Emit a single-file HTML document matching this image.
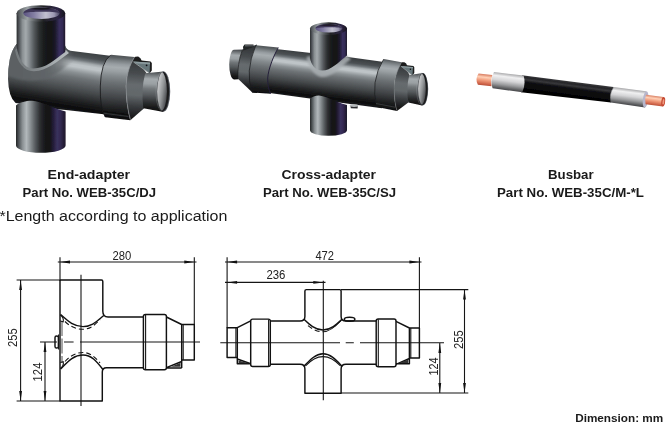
<!DOCTYPE html>
<html><head><meta charset="utf-8">
<style>
html,body{margin:0;padding:0;background:#fff;}
body{width:669px;height:423px;overflow:hidden;font-family:"Liberation Sans",sans-serif;}
svg{display:block;position:absolute;left:0;top:0;}
text{font-family:"Liberation Sans",sans-serif;fill:#1a1a1a;}
.b{font-weight:bold;}
.ln{stroke:#151515;stroke-width:1.1;fill:none;stroke-linecap:butt;}
.th{stroke:#222;stroke-width:0.8;fill:none;}
.bd{stroke:#111;stroke-width:1.45;fill:none;stroke-linejoin:round;}
.dm{font-size:12px;fill:#222;}
</style></head><body>
<svg width="669" height="423" viewBox="0 0 669 423">
<defs>
<!--DEFS-->
<filter id="bl" x="-5%" y="-5%" width="110%" height="110%"><feGaussianBlur stdDeviation="0.45"/></filter>
<filter id="bl2" x="-20%" y="-20%" width="140%" height="140%"><feGaussianBlur stdDeviation="1.3"/></filter>
<filter id="bl3" x="-20%" y="-20%" width="140%" height="140%"><feGaussianBlur stdDeviation="0.7"/></filter>
<!-- vertical pipe (horizontal gradient) -->
<linearGradient id="gvp" x1="0" y1="0" x2="1" y2="0">
<stop offset="0" stop-color="#2a2c2e"/><stop offset="0.05" stop-color="#50555a"/><stop offset="0.12" stop-color="#8a9093"/><stop offset="0.19" stop-color="#a4aaad"/><stop offset="0.27" stop-color="#80868a"/><stop offset="0.36" stop-color="#54595c"/><stop offset="0.46" stop-color="#2e3032"/><stop offset="0.56" stop-color="#1a1b1c"/><stop offset="0.72" stop-color="#141416"/><stop offset="0.8" stop-color="#1e1a2e"/><stop offset="0.88" stop-color="#382f5c"/><stop offset="0.94" stop-color="#342b56"/><stop offset="1" stop-color="#1c1828"/>
</linearGradient>
<!-- horizontal body End-adapter -->
<linearGradient id="ghbA" href="#ghb" gradientUnits="userSpaceOnUse" x1="62" y1="47.4" x2="51.8" y2="109.5"/>
<linearGradient id="gflA" href="#gfl" gradientUnits="userSpaceOnUse" x1="119" y1="53" x2="114" y2="119"/>
<linearGradient id="gcnA" href="#gcn" gradientUnits="userSpaceOnUse" x1="138" y1="60" x2="134" y2="119"/>
<!-- generic (bbox) versions for cross-adapter -->
<linearGradient id="ghb" x1="0.05" y1="0" x2="0" y2="1">
<stop offset="0" stop-color="#3a3e40"/><stop offset="0.1" stop-color="#4c5154"/><stop offset="0.15" stop-color="#70767a"/><stop offset="0.19" stop-color="#a4aaad"/><stop offset="0.23" stop-color="#bec4c7"/><stop offset="0.27" stop-color="#bec4c7"/><stop offset="0.31" stop-color="#a6acaf"/><stop offset="0.36" stop-color="#8a9093"/><stop offset="0.44" stop-color="#6e7376"/><stop offset="0.54" stop-color="#5a5e61"/><stop offset="0.64" stop-color="#464a4c"/><stop offset="0.74" stop-color="#2f3133"/><stop offset="0.83" stop-color="#1b1c1d"/><stop offset="0.92" stop-color="#0c0c0d"/><stop offset="1" stop-color="#1c1e22"/>
</linearGradient>
<linearGradient id="gfl" x1="0.05" y1="0" x2="0" y2="1">
<stop offset="0" stop-color="#44484a"/><stop offset="0.07" stop-color="#5a5f62"/><stop offset="0.12" stop-color="#7a8083"/><stop offset="0.17" stop-color="#969ca0"/><stop offset="0.22" stop-color="#a6acaf"/><stop offset="0.28" stop-color="#9aa0a3"/><stop offset="0.35" stop-color="#848a8d"/><stop offset="0.45" stop-color="#6c7174"/><stop offset="0.56" stop-color="#585c5f"/><stop offset="0.67" stop-color="#434649"/><stop offset="0.77" stop-color="#2e3032"/><stop offset="0.87" stop-color="#1a1b1c"/><stop offset="1" stop-color="#0c0c0d"/>
</linearGradient>
<linearGradient id="gcn" x1="0.05" y1="0" x2="0" y2="1">
<stop offset="0" stop-color="#34373a"/><stop offset="0.22" stop-color="#464a4d"/><stop offset="0.42" stop-color="#666b6e"/><stop offset="0.6" stop-color="#62676a"/><stop offset="0.78" stop-color="#3a3d40"/><stop offset="1" stop-color="#141415"/>
</linearGradient>
<linearGradient id="gep" x1="0.03" y1="0" x2="0" y2="1">
<stop offset="0" stop-color="#4a4e51"/><stop offset="0.08" stop-color="#72777a"/><stop offset="0.18" stop-color="#a4aaad"/><stop offset="0.3" stop-color="#9aa0a3"/><stop offset="0.42" stop-color="#72777a"/><stop offset="0.58" stop-color="#54585b"/><stop offset="0.75" stop-color="#2e3032"/><stop offset="0.9" stop-color="#151516"/><stop offset="1" stop-color="#0a0a0a"/>
</linearGradient>
<linearGradient id="ghole" x1="0" y1="0.15" x2="1" y2="0.75">
<stop offset="0" stop-color="#b6b8ba"/><stop offset="0.3" stop-color="#bec0c2"/><stop offset="0.6" stop-color="#909395"/><stop offset="0.85" stop-color="#5e6063"/><stop offset="1" stop-color="#404144"/>
</linearGradient>
<linearGradient id="gtop" x1="0" y1="0" x2="1" y2="0">
<stop offset="0" stop-color="#5a5280"/><stop offset="0.3" stop-color="#8580a4"/><stop offset="0.62" stop-color="#c2c1d0"/><stop offset="0.85" stop-color="#9c98b2"/><stop offset="1" stop-color="#4a4562"/>
</linearGradient>
<linearGradient id="grim" x1="0" y1="0" x2="1" y2="0">
<stop offset="0" stop-color="#3a3d3f"/><stop offset="0.08" stop-color="#666b6e"/><stop offset="0.22" stop-color="#9aa0a3"/><stop offset="0.4" stop-color="#54585b"/><stop offset="0.55" stop-color="#232426"/><stop offset="0.85" stop-color="#2d2545"/><stop offset="1" stop-color="#16141c"/>
</linearGradient>
<linearGradient id="gcu" x1="0" y1="0" x2="0" y2="1">
<stop offset="0" stop-color="#d9785c"/><stop offset="0.3" stop-color="#ffc3a6"/><stop offset="0.6" stop-color="#ee9170"/><stop offset="1" stop-color="#c8573c"/>
</linearGradient>
<linearGradient id="gwh" x1="0" y1="0" x2="0" y2="1">
<stop offset="0" stop-color="#b7b7b9"/><stop offset="0.22" stop-color="#ededee"/><stop offset="0.5" stop-color="#c9c9cb"/><stop offset="0.8" stop-color="#8f9092"/><stop offset="1" stop-color="#6a6b6d"/>
</linearGradient>
<linearGradient id="gbk" x1="0" y1="0" x2="0" y2="1">
<stop offset="0" stop-color="#1a1a1c"/><stop offset="0.2" stop-color="#2e2e31"/><stop offset="0.45" stop-color="#0c0c0d"/><stop offset="1" stop-color="#000"/>
</linearGradient>
<linearGradient id="ghbB" href="#ghb" gradientUnits="userSpaceOnUse" x1="291" y1="50.6" x2="285.2" y2="96.4"/>
<linearGradient id="gflBL" href="#gfl" gradientUnits="userSpaceOnUse" x1="262" y1="43.7" x2="256" y2="93.6"/>
<linearGradient id="gflBR" href="#gfl" gradientUnits="userSpaceOnUse" x1="388" y1="56.5" x2="381.8" y2="110"/>
<linearGradient id="gcnBL" href="#gcn" gradientUnits="userSpaceOnUse" x1="248" y1="47.5" x2="243" y2="88.5"/>
<linearGradient id="gcnBR" href="#gcn" gradientUnits="userSpaceOnUse" x1="403" y1="65" x2="398" y2="108"/>
<clipPath id="cpA"><ellipse cx="163.1" cy="91.5" rx="6" ry="19.5"/></clipPath>
<clipPath id="cpB"><ellipse cx="422.8" cy="89.1" rx="4.7" ry="15.6"/></clipPath>
<linearGradient id="gvp2" x1="0" y1="0" x2="1" y2="0">
<stop offset="0" stop-color="#222426"/><stop offset="0.05" stop-color="#4a4f52"/><stop offset="0.13" stop-color="#8a9093"/><stop offset="0.21" stop-color="#b2b8bb"/><stop offset="0.29" stop-color="#8a9093"/><stop offset="0.38" stop-color="#5a5f62"/><stop offset="0.48" stop-color="#2e3032"/><stop offset="0.58" stop-color="#18191a"/><stop offset="0.68" stop-color="#141416"/><stop offset="0.74" stop-color="#201b32"/><stop offset="0.83" stop-color="#3a315e"/><stop offset="0.9" stop-color="#312950"/><stop offset="1" stop-color="#1c1828"/>
</linearGradient>
<linearGradient id="gbkC" gradientUnits="userSpaceOnUse" x1="568" y1="81.2" x2="565.8" y2="97.5">
<stop offset="0" stop-color="#3a3a3d"/><stop offset="0.12" stop-color="#252528"/><stop offset="0.25" stop-color="#38383b"/><stop offset="0.4" stop-color="#111113"/><stop offset="1" stop-color="#000"/>
</linearGradient>
<linearGradient id="gwhL" gradientUnits="userSpaceOnUse" x1="508.5" y1="73.7" x2="506.4" y2="90.2">
<stop offset="0" stop-color="#a9a9ab"/><stop offset="0.2" stop-color="#f0f0f1"/><stop offset="0.45" stop-color="#d4d4d6"/><stop offset="0.7" stop-color="#9a9b9d"/><stop offset="0.9" stop-color="#5e5f61"/><stop offset="1" stop-color="#46474a"/>
</linearGradient>
<linearGradient id="gwhR" href="#gwhL" gradientUnits="userSpaceOnUse" x1="629.5" y1="89.1" x2="627.5" y2="105"/>
<linearGradient id="gcuL" gradientUnits="userSpaceOnUse" x1="485.5" y1="74.2" x2="484.2" y2="85.5">
<stop offset="0" stop-color="#d77a5e"/><stop offset="0.28" stop-color="#ffd0b6"/><stop offset="0.55" stop-color="#f09a7a"/><stop offset="0.85" stop-color="#d0654a"/><stop offset="1" stop-color="#b64f38"/>
</linearGradient>
<linearGradient id="gcuR" href="#gcuL" gradientUnits="userSpaceOnUse" x1="654.5" y1="95.6" x2="653.2" y2="105.4"/>
<linearGradient id="gmute" gradientUnits="userSpaceOnUse" x1="8" y1="0" x2="74" y2="0">
<stop offset="0" stop-color="#5b6063" stop-opacity="1"/><stop offset="0.55" stop-color="#5f6467" stop-opacity="1"/><stop offset="0.8" stop-color="#656a6d" stop-opacity="0.7"/><stop offset="1" stop-color="#6a6f72" stop-opacity="0"/>
</linearGradient>
<linearGradient id="gstreak" gradientUnits="userSpaceOnUse" x1="14" y1="0" x2="72" y2="0">
<stop offset="0" stop-color="#7e8487" stop-opacity="0.7"/><stop offset="0.4" stop-color="#8a9093" stop-opacity="0.85"/><stop offset="0.7" stop-color="#a8aeb1" stop-opacity="1"/><stop offset="1" stop-color="#b8bec1" stop-opacity="1"/>
</linearGradient>
<clipPath id="cpBodyA"><path d="M16.6,44Q11.5,50 9.6,60Q8,69 8,79Q8.5,97 15.6,103L60,109.4L66,110L108,114.7L112,56L70.3,50.8Q66.5,49.8 65,45.5Z"/></clipPath>
</defs>
<rect width="669" height="423" fill="#fff"/>
<!--RENDER3D-->
<g id="endadapter" filter="url(#bl)">
<!-- horizontal body -->
<path fill="url(#ghbA)" d="M16.6,44Q11.5,50 9.6,60Q8,69 8,79Q8.5,97 15.6,103L60,109.4L66,110L108,114.7L112,56L70.3,50.8Q66.5,49.8 65,45.5Z"/>
<!-- bottom pipe -->
<path fill="url(#gvp2)" d="M16,105.5C20,102 27,100.6 32,100.8C42,101.5 52,108 65.6,111.6V145.4A24.8,7.4 0 0 1 16,145.4Z"/>
<!-- saddle highlight -->
<g clip-path="url(#cpBodyA)"><path fill="url(#gmute)" d="M6,44L76,44L76,60C66,66 56,76 44,79C30,82 16,80 6,74Z" filter="url(#bl2)"/></g>
<path fill="url(#gstreak)" d="M15,50C17,62 24,71.5 34,71.3C47,70.6 57,62 69,53L66,50C55,58 46,66 33,66C24,66 19,57 17.5,48Z" filter="url(#bl3)"/>
<!-- top pipe with saddle -->
<path fill="url(#gvp)" d="M16.6,13V46C18,58 24,68.5 33,68.5C46,68.5 54,60 65.2,52V13Z"/>
<!-- top ellipse rim -->
<ellipse cx="40.9" cy="13.4" rx="24.3" ry="8.2" fill="url(#grim)"/>
<ellipse cx="41.5" cy="13.2" rx="18" ry="5.8" fill="url(#gtop)"/>
<path d="M23.5,13.2A18,5.8 0 0 1 59.5,13.2C54,11.4 29,11.4 23.5,13.2Z" fill="#3d3656"/>
<path d="M29,9Q41.5,6.4 54,9Q41.5,10.4 29,9Z" fill="#17151f"/>
<!-- flange -->
<path fill="url(#gflA)" d="M111,54.7L134.6,57C130,64 126.2,75 125.9,86C125.8,98 127.5,110 130.3,120.3L105.2,117.3Q99.6,108 100,86Q101,62 111,54.7Z"/>
<path fill="none" stroke="#161718" stroke-width="0.8" d="M110.5,55.2Q101,62 100.3,86Q99.8,108 105.2,117"/>
<path fill="none" stroke="#0c0c0d" stroke-width="1.2" opacity="0.8" d="M103,111.3L128,114.6"/>
<path fill="none" stroke="#44484b" stroke-width="0.7" opacity="0.9" d="M103.6,113.2L128.4,116.5"/>
<!-- cone -->
<path fill="url(#gcnA)" d="M134.6,57L146.5,73L144.4,108L130.3,120.3C127.5,110 125.8,98 125.9,86C126.2,75 130,64 134.6,57Z"/>
<path fill="none" stroke="#8d9295" stroke-width="0.8" opacity="0.85" d="M134.3,57.6C130,64 126.4,75 126.2,86C126.1,98 127.7,110 130.4,119.6"/>
<!-- lug -->
<path fill="#1b1c1d" d="M135.2,56.7L138.2,56.6Q141,58 141.6,60.6L150.6,61.6L151.8,63L151.8,70.5L149.6,73.6L133,61.6Z"/>
<path fill="#66767a" d="M133.4,61.6L150,62.8L149.6,73.2Z"/>
<path fill="#8b9a9e" d="M133.4,61.4L150,62.6L150,64.2L137,63.4Z"/>
<path fill="none" stroke="#cfd6d8" stroke-width="0.6" d="M133.4,61.9L149.4,73.2"/>
<circle cx="146.6" cy="65.3" r="0.9" fill="#101112"/>
<!-- end pipe -->
<path fill="url(#gep)" d="M145.2,73.2L163.5,71.4A6.7,20.1 0 0 1 161,111.6L143.4,108.2Q140.8,90 145.2,73.2Z"/>
<ellipse cx="163.5" cy="91.5" rx="6.7" ry="20.1" fill="#50545a"/>
<ellipse cx="163.1" cy="91.5" rx="6" ry="19.5" fill="#1a1b1d"/>
<g clip-path="url(#cpA)"><ellipse cx="161.3" cy="91.3" rx="5.6" ry="19.4" fill="url(#ghole)"/></g>
<path fill="none" stroke="#9a9ea0" stroke-width="0.5" opacity="0.6" d="M163,71.8A6.3,19.8 0 0 0 160.5,110.5"/>
</g>
<g id="crossadapter" filter="url(#bl)">
<!-- left end pipe -->
<path fill="url(#gep)" d="M242.6,49.4L234,49.8A4.8,14.8 0 0 0 234,79.4L238.4,79.3Q237,64 242.6,49.4Z"/>
<!-- left cone -->
<path fill="url(#gcnBL)" d="M242.4,49.6L257,44.5L257,93L252.4,92.5L238.2,79Q237,64 242.4,49.6Z"/>
<path fill="none" stroke="#1a1b1c" stroke-width="0.7" d="M242.4,49.8Q237,64 238.2,79"/>
<!-- left lug -->
<path fill="#232527" d="M243,46.8L244.5,44.4L253.5,44.6L253.5,47L243.4,50.6Z"/>
<path fill="#5a5f62" d="M245,45L253,45.2L253,46.2L245.2,46.4Z"/>
<!-- body -->
<path fill="url(#ghbB)" d="M262,47.4L280.4,49.5L309,52.7L347,56.8L351.7,57.5L386,62.2L382,108.3L346.4,103.5L308,98.3L266,92.6Z"/>
<!-- bottom pipe -->
<path fill="url(#gvp2)" d="M310,98.6C312,96.6 315.5,95.3 319,95.4C326,95.8 335,101.5 347,105V130.2A18.5,5.6 0 0 1 310,130.2Z"/>
<!-- left flange -->
<path fill="url(#gflBL)" d="M255.9,45.2L278.3,47.5C274,55 268.5,68 267.7,78C267.5,84 268.5,89 270.5,93.8L252.4,92.5Q244.2,73 255.9,45.2Z"/>
<path fill="none" stroke="#251f3a" stroke-width="1" d="M278.3,47.6C274,55 268.5,68 267.7,78C267.5,84 268.5,89 270.5,93.8"/>
<path fill="none" stroke="#1a1b1c" stroke-width="0.7" d="M255.8,45.4Q244.4,73 252.4,92.4"/>
<!-- saddle highlight -->
<path fill="#a9afb2" opacity="0.85" d="M306.5,57C309,69 315,77 323,77C333,76.5 341,67 351,59L346,55C338,62 331,69.5 322,69.5C315,69.5 311,63 310,56Z" filter="url(#bl2)"/>
<!-- top pipe -->
<path fill="url(#gvp)" d="M310,28.6V58C311.2,65 315.5,70.6 322.2,70.6C331,70.6 338.5,62 347,55.5V28.6Z"/>
<ellipse cx="328.5" cy="28.6" rx="18.5" ry="6.3" fill="url(#grim)"/>
<ellipse cx="328.9" cy="28.3" rx="13.4" ry="4.3" fill="url(#gtop)"/>
<path d="M315.5,28.3A13.4,4.3 0 0 1 342.3,28.3C338,27 320,27 315.5,28.3Z" fill="#3d3656"/>
<path d="M319.5,25.2Q329,23.2 338.5,25.2Q329,26.3 319.5,25.2Z" fill="#17151f"/>
<!-- bolt -->
<path fill="#2a2c2e" d="M350.4,105.6L357.8,106.2L357.6,108.6L350.8,108.2Z"/>
<ellipse cx="354" cy="105.6" rx="4.3" ry="1.4" fill="#b4b8ba"/>
<!-- right flange -->
<path fill="url(#gflBR)" d="M383.8,58.9L401.7,62.3C397,70 394,80 394,88C394,97 395,105 397,111L377,107Q369.5,82 383.8,58.9Z"/>
<path fill="none" stroke="#1a1b1c" stroke-width="0.7" d="M383.6,59.2Q369.8,82 377,106.8"/>
<path fill="none" stroke="#4a4d4f" stroke-width="0.6" d="M376,103.5L395.5,107.3"/>
<!-- right cone -->
<path fill="url(#gcnBR)" d="M401.7,62.3L409.6,75L408.3,102.4L397,111C395,105 394,97 394,88C394,80 397,70 401.7,62.3Z"/>
<path fill="none" stroke="#777c7e" stroke-width="0.6" opacity="0.8" d="M401.5,63C397,70 394.2,80 394.2,88C394.2,97 395.2,105 397,110.5"/>
<!-- right lug -->
<path fill="#1b1c1d" d="M401.9,62.3L404.4,62.2Q406.6,63.4 407,65.2L413.4,66.1L414.3,67.2L414.3,73L412.4,75.6L400.4,66.2Z"/>
<path fill="#66767a" d="M400.8,66L413,67.2L412.5,75.2Z"/>
<path fill="#8b9a9e" d="M400.8,65.9L413,67L413,68.3L403.6,67.6Z"/>
<path fill="none" stroke="#cfd6d8" stroke-width="0.5" d="M400.8,66.2L412.3,75.2"/>
<circle cx="410.4" cy="69.2" r="0.7" fill="#101112"/>
<!-- right end pipe -->
<path fill="url(#gep)" d="M409.3,75L423,72.9A5.3,16.2 0 0 1 421,105.3L408.3,102.4Q406,88 409.3,75Z"/>
<ellipse cx="422.9" cy="89.1" rx="5.3" ry="16.2" fill="#50545a"/>
<ellipse cx="422.8" cy="89.1" rx="4.7" ry="15.6" fill="#1a1b1d"/>
<g clip-path="url(#cpB)"><ellipse cx="421.3" cy="89" rx="4.5" ry="15.5" fill="url(#ghole)"/></g>
<path fill="none" stroke="#9a9ea0" stroke-width="0.5" opacity="0.6" d="M422.6,73.2A5,16 0 0 0 420.6,104.6"/>
</g>
<g id="busbar" filter="url(#bl)">
<!-- black center (polygon in page coords) -->
<path fill="url(#gbkC)" d="M522,75.2L613.5,87.1L611,102.4L521,92.3Z"/>
<!-- left white sleeve -->
<path fill="url(#gwhL)" d="M494,71.9L523.6,75.6Q526,84 522.3,92.3L492.6,88.3Q489.6,80 494,71.9Z"/>
<!-- left copper -->
<path fill="url(#gcuL)" d="M478.6,73.5L492.3,75Q490.3,80.5 491.5,86.2L477.9,84.7Q474.7,78.9 478.6,73.5Z"/>
<!-- right white sleeve -->
<path fill="url(#gwhR)" d="M613.6,87.1L646,91.2Q648.6,99.5 645,107.6L610.8,102.4Q608.6,94.5 613.6,87.1Z"/>
<path fill="none" stroke="#55565a" stroke-width="0.6" opacity="0.7" d="M613.6,87.3Q608.8,94.5 610.9,102.2"/>
<ellipse cx="645.6" cy="99.4" rx="2.7" ry="8.2" transform="rotate(7.3 645.6 99.4)" fill="#b7b6cc"/>
<!-- right copper -->
<path fill="url(#gcuR)" d="M646,94.7L663.4,96.9Q666.7,101.6 662.9,106.5L645.6,104.2Q644.2,99.4 646,94.7Z"/>
<ellipse cx="663.2" cy="101.7" rx="1.9" ry="4.7" transform="rotate(7.3 663.2 101.7)" fill="#c64a33"/>
<ellipse cx="663.4" cy="101.8" rx="0.9" ry="2.7" transform="rotate(7.3 663.4 101.8)" fill="#ef9a80"/>
</g>
<!--TEXT-->
<g id="labels" opacity="0.999">
<text class="b" x="47.6" y="178.9" font-size="13.2" textLength="82.5" lengthAdjust="spacingAndGlyphs">End-adapter</text>
<text class="b" x="22.6" y="197.4" font-size="13.2" textLength="133.5" lengthAdjust="spacingAndGlyphs">Part No. WEB-35C/DJ</text>
<text class="b" x="281.4" y="178.9" font-size="13.2" textLength="94.6" lengthAdjust="spacingAndGlyphs">Cross-adapter</text>
<text class="b" x="263" y="197.4" font-size="13.2" textLength="133" lengthAdjust="spacingAndGlyphs">Part No. WEB-35C/SJ</text>
<text class="b" x="548" y="178.9" font-size="13.2" textLength="45.6" lengthAdjust="spacingAndGlyphs">Busbar</text>
<text class="b" x="497" y="197.4" font-size="13.2" textLength="147" lengthAdjust="spacingAndGlyphs">Part No. WEB-35C/M-*L</text>
<text x="-0.6" y="221" font-size="15.4" textLength="228" lengthAdjust="spacingAndGlyphs">*Length according to application</text>
<text class="b" x="575.2" y="422.2" font-size="11.4" textLength="88" lengthAdjust="spacingAndGlyphs" fill="#333">Dimension: mm</text>
</g>
<!--DRAW1-->
<g id="draw1" opacity="0.999">
<!-- extension & dimension lines -->
<path class="ln" d="M60,257.3V281 M194.3,257.3V325 M57.8,262H196.5 M16.6,280H60 M16.6,401H60 M20.6,280V401 M45,342V401 M40,342H57"/>
<path class="ln" d="M81,274.7V406"/>
<path class="ln" d="M64,342H73.6 M80,342H200"/>
<!-- arrows -->
<path fill="#111" d="M60,262l10,-1.4v2.8z M194.3,262l-10,-1.4v2.8z M20.6,280l-1.4,10h2.8z M20.6,401l-1.4,-10h2.8z M45,342l-1.4,10h2.8z M45,401l-1.4,-10h2.8z"/>
<!-- body -->
<path class="bd" d="M60,280H101.5Q102.8,280 102.8,281.5V311Q102.8,317 108,317H143.4"/>
<path class="bd" d="M60,280V401H102.3V372Q102.3,367.7 106.5,367.7H143.4"/>
<rect class="bd" x="143.4" y="314.5" width="23" height="55.3" rx="2" ry="2"/>
<path class="ln" d="M145.6,314.8V369.5"/>
<path class="bd" d="M166.4,317L181.7,324.5H194.3V360H181.7"/>
<path class="bd" d="M181.7,324.5V368 M166.4,368H181.7 M166.4,367.7L181.7,361.5"/>
<path class="ln" d="M183.2,324.5V360"/>
<path fill="#333" d="M171,366.8L180.5,362.8V366.8z"/>
<!-- saddles -->
<path class="bd" stroke-width="1" d="M60.6,314.5C66,319 72,326.6 83,326.6C92,326.6 97,321 103.8,315.5"/>
<path class="ln" stroke-dasharray="5 3" d="M65,321.5C70,326.5 76,329.3 83,329.3C90,329.3 95,325 100,319.5"/>
<path class="ln" d="M60.3,315C62.5,316.5 63.8,319 63.2,321.8L60.3,321"/>
<path class="bd" stroke-width="1" d="M60.6,369C66,364 72,355 83,355C92,355 97,362 103,369.5"/>
<path class="ln" stroke-dasharray="5 3" d="M65,361.5C70,356 76,352.5 83,352.5C90,352.5 95,357 100,363"/>
<path class="ln" d="M60.3,368.5C62.5,367 63.8,364.5 63.2,361.7L60.3,362.5"/>
<path class="th" stroke-dasharray="15 2.5" d="M62,321V363"/>
<!-- plug -->
<rect class="bd" stroke-width="1" x="55" y="336" width="3.4" height="12" rx="1.6" ry="1.6"/>
<path class="ln" d="M58.6,334.5V349.5"/>
<!-- dim text -->
<text class="dm" x="112.4" y="259.6" font-size="12.8" textLength="18.8" lengthAdjust="spacingAndGlyphs">280</text>
<text class="dm" transform="translate(16.8,347) rotate(-90)" font-size="12.8" textLength="18.8" lengthAdjust="spacingAndGlyphs">255</text>
<text class="dm" transform="translate(41.7,381.4) rotate(-90)" font-size="12.8" textLength="18.8" lengthAdjust="spacingAndGlyphs">124</text>
</g>
<!--/DRAW1-->
<!--DRAW2-->
<g id="draw2" opacity="0.999">
<path class="ln" d="M227.1,257.3V328 M419.4,257.3V328 M225,262H421.5 M225,282.4H325.5 M323.3,280.7V400.2 M341,289.6H468.3 M341,393H468.3 M464.5,289.6V393 M439.8,343V393"/>
<path class="ln" d="M220.3,342.7H340 M345.7,342.7H353.8 M360,342.7H444"/>
<path fill="#111" d="M227.1,262l10,-1.4v2.8z M419.4,262l-10,-1.4v2.8z M227.1,282.4l10,-1.4v2.8z M323.3,282.4l-10,-1.4v2.8z M464.5,289.6l-1.4,10h2.8z M464.5,393l-1.4,-10h2.8z M439.8,343l-1.4,10h2.8z M439.8,393l-1.4,-10h2.8z"/>
<!-- left end -->
<path class="bd" d="M237.3,327.7H227.1V357.4H237.3 M237.3,327.7L250.7,320.9 M237.3,327.7V363.8H250.7 M237.3,359L250.7,363.8"/>
<path class="ln" d="M235.9,327.7V357.4"/>
<path fill="#333" d="M238.5,360.5L248,363V363.2H238.5z"/>
<rect class="bd" x="250.7" y="319.1" width="19.6" height="47.3" rx="2" ry="2"/>
<path class="ln" d="M268.6,319.4V366.1"/>
<!-- body -->
<path class="bd" d="M270.3,321H300Q304.9,321 304.9,316.5V291Q304.9,289.6 306.4,289.6H339.6Q341.1,289.6 341.1,291V316.5Q341.1,321 346,321H376.2"/>
<path class="bd" d="M270.3,364.3H300Q304.9,364.3 304.9,369V393.2H341.1V369Q341.1,364.3 346,364.3H376.2"/>
<rect class="bd" x="376.2" y="319" width="19.8" height="47.8" rx="2" ry="2"/>
<path class="ln" d="M378.3,319.3V366.5"/>
<path class="bd" d="M396,321.3L409.4,328H419.4V357.9H409.4 M409.4,328V363.7H396 M396,364.3L409.4,358.5"/>
<path class="ln" d="M410.8,328V357.9"/>
<path fill="#333" d="M399,363L408.3,359.5V363z"/>
<!-- saddles -->
<path class="bd" stroke-width="1" d="M303.8,319C309,324 315,330 323,330C331,330 337,324 342.3,319"/>
<path class="ln" stroke-dasharray="5 3" d="M308,325.7C312,329 317,331.8 323,331.8"/>
<path class="ln" d="M323,331.8C330,331.8 336,326 341,320.5"/>
<path class="bd" stroke-width="1" d="M303.8,366.5C309,361 315,353.8 323,353.8C331,353.8 337,361 342.3,366.5"/>
<path class="ln" d="M305.5,366C310,361 316,356.6 323,356.6C330,356.6 336,361 340.5,366"/>
<!-- plug -->
<ellipse class="bd" stroke-width="1" cx="349.6" cy="319.3" rx="5.3" ry="2"/>
<path class="ln" d="M345,320.8H354.2"/>
<text class="dm" x="266.4" y="279.4" font-size="12.8" textLength="19" lengthAdjust="spacingAndGlyphs">236</text>
<text class="dm" x="315.4" y="260" font-size="12.8" textLength="18.6" lengthAdjust="spacingAndGlyphs">472</text>
<text class="dm" transform="translate(462.6,349) rotate(-90)" font-size="12.8" textLength="18.8" lengthAdjust="spacingAndGlyphs">255</text>
<text class="dm" transform="translate(437.8,375.6) rotate(-90)" font-size="12.8" textLength="18" lengthAdjust="spacingAndGlyphs">124</text>
</g>
<!--/DRAW2-->
</svg>
</body></html>
